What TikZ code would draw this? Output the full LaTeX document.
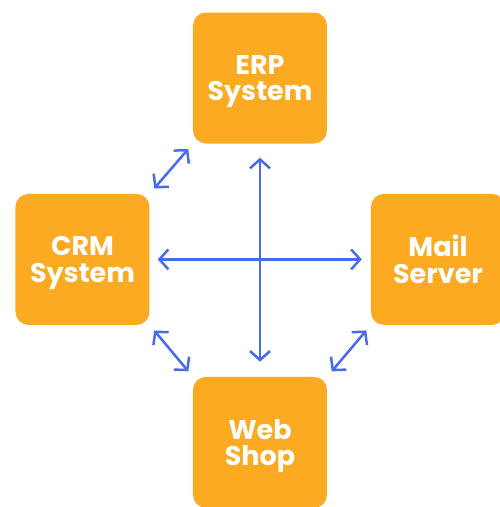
\documentclass[tikz,border=0pt]{standalone}
\usepackage{fontspec}
\setmainfont{Poppins}
\usetikzlibrary{positioning,arrows.meta}
\definecolor{boxorange}{RGB}{251,170,34}
\definecolor{linkblue}{RGB}{72,107,238}

\begin{document}
\begin{tikzpicture}[sys/.style={rectangle,rounded corners=13pt,fill=boxorange,text=white,minimum width=134pt,minimum height=131pt,inner sep=0pt,text depth=0pt,align=center,font=\fontsize{27}{26.5}\selectfont\bfseries},link/.style={draw=linkblue,line width=2.5pt,{Straight Barb[length=9pt,width=20pt,line width=2.5pt]}-{Straight Barb[length=9pt,width=20pt,line width=2.5pt]}}]
	\clip (-260pt,78pt) rectangle (240pt,-429pt);

	\node[sys]												(erp)	{ERP\\System};
	\node[sys,node distance=50pt,below=of erp,xshift=-177.5pt]	(crm)	{CRM\\System};
	\node[sys,node distance=50pt,below=of erp,xshift=178pt]		(mail)	{Mail\\Server};
	\node[sys,node distance=233pt,below=of erp]				(shop)	{Web\\Shop};

	\draw[link,shorten <=8pt,shorten >=9pt] (crm) -- (mail);
	\draw[link,shorten <=14pt,shorten >=15pt] (erp) -- (shop);

	\draw[link,shorten <=7pt,shorten >=7pt] (crm.north east) -- (erp.south west);
	\draw[link,shorten <=7pt,shorten >=7pt] (crm.south east) -- (shop.north west);
	\draw[link,shorten <=7pt,shorten >=7pt] (shop.north east) -- (mail.south west);
\end{tikzpicture}
\end{document}
